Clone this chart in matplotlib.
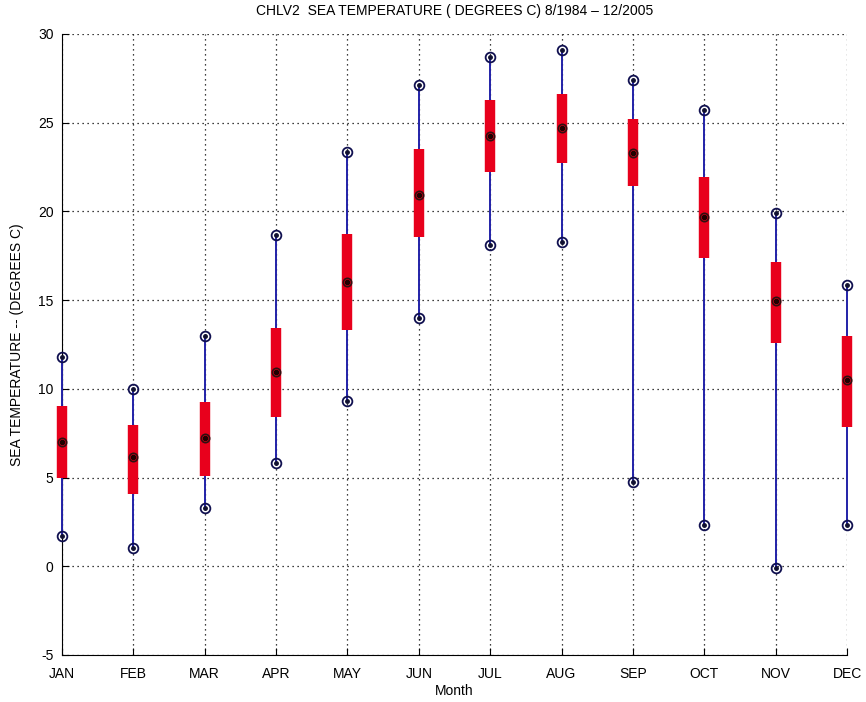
import matplotlib.pyplot as plt
import numpy as np

months = ['JAN', 'FEB', 'MAR', 'APR', 'MAY', 'JUN', 'JUL', 'AUG', 'SEP', 'OCT', 'NOV', 'DEC']
means = [7.0, 6.15, 7.25, 10.95, 16.0, 20.9, 24.25, 24.7, 23.3, 19.7, 14.95, 10.5]
lower = [5.0, 4.05, 5.1, 8.4, 13.3, 18.55, 22.2, 22.7, 21.45, 17.4, 12.6, 7.86]
upper = [9.05, 7.95, 9.25, 13.45, 18.7, 23.5, 26.3, 26.6, 25.2, 21.95, 17.15, 12.95]
mins = [1.7, 1.05, 3.3, 5.8, 9.3, 14.0, 18.1, 18.3, 4.75, 2.3, -0.1, 2.3]
maxs = [11.8, 10.0, 13.0, 18.65, 23.35, 27.1, 28.7, 29.1, 27.4, 25.7, 19.9, 15.85]

plt.rcParams['font.family'] = ['Liberation Sans', 'DejaVu Sans']
plt.rcParams['axes.unicode_minus'] = False

fig = plt.figure(figsize=(8.66, 7.02), dpi=100)
ax = fig.add_axes([0.0716, 0.067, 0.9065, 0.8846])

x = np.arange(1, len(months) + 1)
navy = '#2222a8'

# min-max whiskers
ax.vlines(x, mins, maxs, color=navy, lw=1.4, zorder=3, clip_on=False)
# std boxes
ax.vlines(x, lower, upper, color='#e8001c', lw=7.5, zorder=4, clip_on=False)

# end markers
for vals in (mins, maxs):
    ax.plot(x, vals, 'o', ms=7, mfc='none', mec='#101050', mew=1.3, zorder=5, clip_on=False)
    ax.plot(x, vals, '.', ms=5, color='#101030', zorder=6, clip_on=False)
# mean markers
ax.plot(x, means, 'o', ms=6, mfc='none', mec='#301010', mew=1.2, zorder=5, clip_on=False)
ax.plot(x, means, '.', ms=6, color='#200000', zorder=6, clip_on=False)

ax.set_xlim(1, 12)
ax.set_ylim(-5, 30)
ax.set_xticks(x)
ax.set_xticklabels(months)
ax.set_yticks(np.arange(-5, 31, 5))
ax.grid(True, color='black', linestyle=(0, (1, 3)), lw=0.9)
ax.set_axisbelow(True)
ax.spines['top'].set_visible(False)
ax.spines['right'].set_visible(False)
ax.tick_params(direction='in', length=5, labelsize=10)
ax.tick_params(axis='x', pad=9)
ax.tick_params(axis='y', pad=6)

ax.set_title('CHLV2  SEA TEMPERATURE ( DEGREES C) 8/1984 \u2013 12/2005', fontsize=10, pad=14)
ax.set_xlabel('Month', fontsize=10, labelpad=2)
ax.set_ylabel('SEA TEMPERATURE -- (DEGREES C)', fontsize=10, labelpad=10)

fig.savefig('out.png', dpi=100)
